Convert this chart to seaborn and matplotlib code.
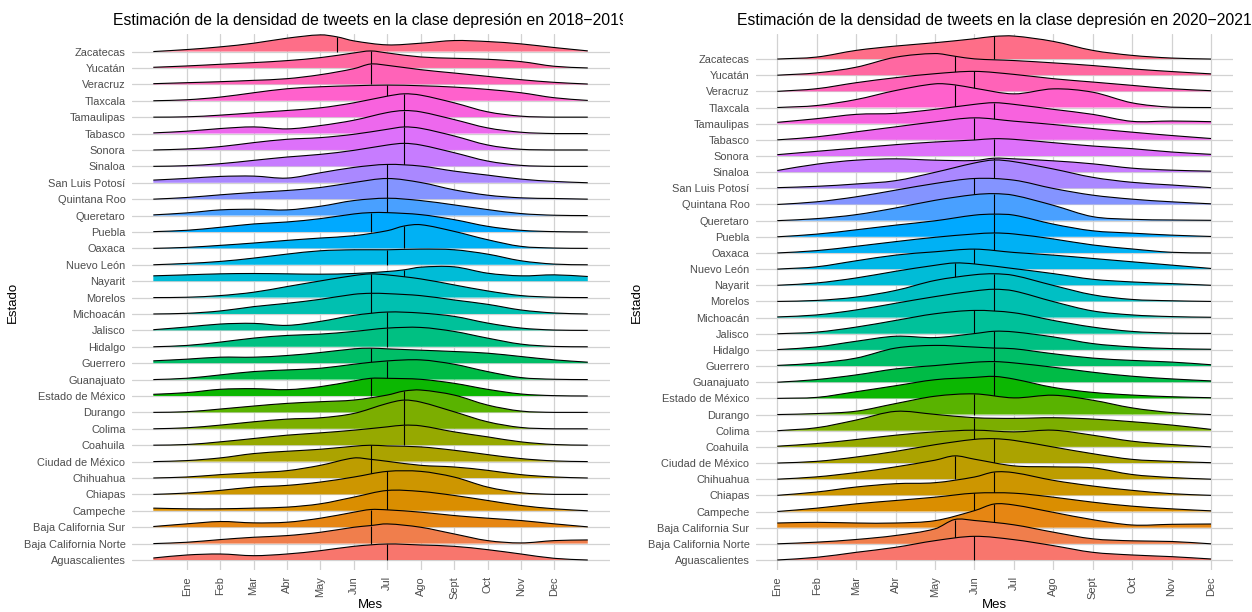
import numpy as np
import matplotlib
matplotlib.use("Agg")
import matplotlib.pyplot as plt
import seaborn as sns
from matplotlib.path import Path
from matplotlib.patches import PathPatch
from matplotlib.transforms import Bbox

# ---------------- data ----------------
states = ["Aguascalientes", "Baja California Norte", "Baja California Sur", "Campeche",
          "Chiapas", "Chihuahua", "Ciudad de México", "Coahuila", "Colima", "Durango",
          "Estado de México", "Guanajuato", "Guerrero", "Hidalgo", "Jalisco", "Michoacán",
          "Morelos", "Nayarit", "Nuevo León", "Oaxaca", "Puebla", "Queretaro",
          "Quintana Roo", "San Luis Potosí", "Sinaloa", "Sonora", "Tabasco", "Tamaulipas",
          "Tlaxcala", "Veracruz", "Yucatán", "Zacatecas"]

tick_months = list(range(1, 13))
month_labels = ["Ene", "Feb", "Mar", "Abr", "May", "Jun", "Jul", "Ago", "Sept", "Oct", "Nov", "Dec"]

# 2018-2019: density heights at months 0..13 (arbitrary units)
months_1819 = list(range(0, 14))
dens_1819 = [
    [6, 15, 18, 13, 18, 28, 41, 48, 45, 41, 31, 18, 5, 0],
    [0, 4, 12, 19, 24, 34, 49, 59, 49, 29, 9, 2, 9, 11],
    [2, 10, 17, 13, 15, 27, 45, 52, 45, 35, 27, 20, 10, 1],
    [8, 6, 6, 8, 11, 21, 41, 61, 58, 46, 31, 16, 6, 0],
    [0, 4, 12, 22, 27, 37, 52, 69, 69, 52, 22, 5, 0, 0],
    [0, 3, 10, 16, 22, 38, 60, 50, 38, 33, 23, 10, 3, 0],
    [0, 3, 11, 24, 31, 37, 46, 47, 44, 34, 21, 9, 2, 0],
    [0, 2, 10, 20, 30, 37, 45, 55, 58, 40, 25, 10, 2, 0],
    [0, 3, 11, 21, 29, 33, 46, 76, 80, 51, 21, 4, 0, 0],
    [0, 2, 10, 19, 27, 32, 37, 52, 67, 52, 22, 4, 0, 0],
    [5, 10, 20, 22, 19, 28, 45, 53, 50, 38, 20, 6, 1, 0],
    [0, 4, 14, 24, 29, 34, 46, 56, 59, 46, 24, 6, 1, 0],
    [7, 12, 18, 18, 23, 32, 43, 43, 39, 35, 30, 20, 10, 3],
    [0, 4, 14, 26, 34, 38, 46, 56, 58, 46, 26, 8, 1, 0],
    [2, 10, 19, 21, 15, 27, 45, 55, 52, 42, 22, 7, 1, 0],
    [0, 2, 9, 22, 32, 44, 59, 61, 55, 42, 29, 12, 3, 0],
    [0, 1, 6, 16, 33, 50, 66, 68, 56, 38, 20, 6, 1, 0],
    [16, 19, 22, 23, 22, 21, 23, 29, 42, 43, 24, 16, 19, 14],
    [0, 4, 10, 20, 32, 42, 45, 45, 47, 45, 32, 12, 2, 0],
    [0, 3, 9, 16, 24, 31, 38, 53, 71, 51, 26, 6, 1, 0],
    [1, 5, 14, 24, 30, 40, 54, 58, 52, 37, 17, 5, 1, 0],
    [2, 8, 17, 19, 17, 28, 45, 52, 45, 32, 18, 6, 1, 0],
    [0, 5, 13, 20, 26, 35, 50, 62, 50, 28, 12, 4, 2, 0],
    [8, 13, 19, 20, 14, 30, 46, 55, 50, 35, 23, 11, 4, 0],
    [0, 2, 8, 18, 28, 36, 48, 64, 64, 41, 16, 3, 0, 0],
    [0, 3, 10, 22, 32, 37, 47, 62, 65, 42, 15, 2, 0, 0],
    [2, 7, 15, 20, 14, 24, 40, 63, 65, 42, 17, 4, 0, 0],
    [0, 1, 6, 13, 20, 28, 43, 63, 66, 43, 16, 3, 0, 0],
    [0, 3, 11, 24, 36, 42, 45, 47, 45, 41, 34, 24, 9, 1],
    [2, 5, 8, 12, 17, 29, 47, 57, 44, 34, 24, 14, 6, 1],
    [2, 6, 11, 16, 22, 31, 45, 45, 33, 29, 26, 19, 5, 0],
    [0, 6, 14, 25, 40, 50, 32, 20, 25, 33, 30, 23, 12, 2],
]
med_1819 = [7.0, 6.5, 6.5, 7.0, 7.0, 6.5, 6.5, 7.5, 7.5, 7.5, 6.5, 7.0, 6.5, 7.0, 7.0, 6.5,
            6.5, 7.5, 7.0, 7.5, 6.5, 7.0, 7.0, 7.0, 7.5, 7.5, 7.5, 7.5, 7.0, 6.5, 6.5, 5.5]
medh_1819 = [48, 54, 53, 61, 69, 56, 49, 60, 86, 64, 53, 56, 45, 56, 55, 62,
             71, 34, 45, 67, 58, 52, 62, 55, 69, 69, 69, 70, 47, 61, 51, 44]

# 2020-2021: density heights at months 1..12 (arbitrary units)
months_2021 = list(range(1, 13))
dens_2021 = [
    [0, 8, 23, 38, 58, 71, 61, 43, 23, 15, 10, 3],
    [0, 5, 13, 25, 45, 70, 57, 35, 15, 9, 7, 0],
    [14, 16, 14, 14, 21, 51, 68, 46, 24, 8, 10, 11],
    [0, 10, 23, 33, 43, 55, 55, 43, 28, 16, 8, 2],
    [0, 10, 25, 35, 38, 55, 68, 45, 28, 15, 5, 0],
    [0, 7, 20, 37, 57, 60, 40, 37, 34, 14, 5, 0],
    [0, 5, 18, 35, 55, 71, 68, 48, 28, 11, 5, 1],
    [2, 10, 22, 35, 45, 50, 45, 50, 35, 17, 7, 0],
    [0, 9, 32, 58, 49, 39, 37, 39, 35, 27, 17, 4],
    [0, 3, 10, 33, 55, 62, 50, 58, 43, 20, 6, 0],
    [0, 3, 20, 38, 56, 63, 58, 33, 18, 10, 5, 2],
    [0, 8, 22, 40, 50, 60, 58, 45, 30, 18, 10, 4],
    [2, 9, 24, 54, 62, 57, 52, 37, 24, 17, 12, 4],
    [1, 9, 26, 41, 37, 49, 54, 39, 19, 9, 4, 2],
    [0, 5, 20, 40, 60, 70, 63, 40, 20, 7, 2, 1],
    [2, 8, 23, 43, 63, 80, 80, 48, 20, 8, 3, 1],
    [0, 3, 13, 33, 63, 80, 78, 48, 20, 6, 2, 0],
    [0, 7, 22, 42, 60, 64, 50, 35, 18, 10, 5, 0],
    [0, 7, 25, 42, 52, 60, 50, 42, 32, 22, 12, 2],
    [0, 7, 20, 34, 47, 57, 57, 42, 24, 12, 2, 0],
    [0, 8, 21, 35, 48, 65, 65, 38, 18, 11, 5, 1],
    [0, 6, 18, 38, 61, 78, 76, 46, 12, 4, 2, 1],
    [0, 8, 23, 43, 63, 78, 73, 48, 28, 16, 8, 2],
    [2, 6, 13, 23, 48, 76, 80, 58, 33, 18, 10, 2],
    [5, 24, 36, 40, 36, 35, 40, 34, 25, 12, 6, 3],
    [4, 14, 24, 34, 42, 48, 50, 40, 30, 22, 12, 5],
    [0, 9, 24, 39, 54, 66, 56, 46, 34, 23, 13, 4],
    [4, 15, 28, 31, 43, 58, 58, 43, 28, 7, 8, 6],
    [0, 6, 24, 51, 71, 58, 41, 56, 46, 14, 1, 0],
    [0, 8, 26, 41, 53, 60, 51, 38, 28, 18, 8, 2],
    [0, 7, 24, 54, 65, 49, 44, 37, 29, 19, 11, 4],
    [0, 6, 26, 39, 49, 61, 69, 53, 26, 11, 3, 0],
]
med_2021 = [6.0, 5.5, 6.5, 6.0, 6.5, 5.5, 6.5, 6.0, 6.0, 6.0, 6.5, 6.5, 6.5, 6.5, 6.0, 6.5,
            6.5, 5.5, 6.0, 6.5, 6.5, 6.5, 6.0, 6.5, 6.5, 6.5, 6.0, 6.5, 5.5, 6.0, 5.5, 6.5]
medh_2021 = [71, 73, 71, 55, 70, 70, 73, 50, 39, 62, 66, 62, 54, 56, 70, 85,
             83, 67, 60, 60, 68, 81, 78, 85, 42, 52, 66, 63, 68, 60, 57, 68]

titles = ["Estimación de la densidad de tweets en la clase depresión en 2018\u22122019",
          "Estimación de la densidad de tweets en la clase depresión en 2020\u22122021"]

# ---------------- style ----------------
sns.set_theme(style="whitegrid")
plt.rcParams['font.family'] = ['Liberation Sans', 'DejaVu Sans']

W, H = 1252, 612
fig = plt.figure(figsize=(W / 100, H / 100), dpi=100)
fig.patch.set_facecolor("white")


def hcl_hex(h, c=100.0, l=65.0):
    hr = np.deg2rad(h)
    u, v = c * np.cos(hr), c * np.sin(hr)
    Xn, Yn, Zn = 95.047, 100.0, 108.883
    den = Xn + 15 * Yn + 3 * Zn
    un, vn = 4 * Xn / den, 9 * Yn / den
    Y = Yn * ((l + 16) / 116) ** 3
    up = u / (13 * l) + un
    vp = v / (13 * l) + vn
    X = Y * 9 * up / (4 * vp)
    Z = Y * (12 - 3 * up - 20 * vp) / (4 * vp)
    X, Y, Z = X / 100, Y / 100, Z / 100
    rgb = [3.2404542 * X - 1.5371385 * Y - 0.4985314 * Z,
           -0.9692660 * X + 1.8760108 * Y + 0.0415560 * Z,
           0.0556434 * X - 0.2040259 * Y + 1.0572252 * Z]
    out = []
    for ch in rgb:
        ch = 1.055 * ch ** (1 / 2.4) - 0.055 if ch > 0.0031308 else 12.92 * ch
        out.append(min(max(ch, 0), 1))
    return tuple(out)


colors = [hcl_hex(15 + 360 * i / len(states)) for i in range(len(states))]


def curve_path(xs, ys, base):
    """Smooth (Catmull-Rom style) cubic Bezier path through the knots."""
    xs = np.asarray(xs, float)
    ys = np.asarray(ys, float)
    n = len(xs)
    m = np.zeros(n)
    for i in range(n):
        if i == 0:
            m[i] = (ys[1] - ys[0]) / (xs[1] - xs[0])
        elif i == n - 1:
            m[i] = (ys[-1] - ys[-2]) / (xs[-1] - xs[-2])
        else:
            m[i] = (ys[i + 1] - ys[i - 1]) / (xs[i + 1] - xs[i - 1])
    verts = [(xs[0], base + ys[0])]
    codes = [Path.MOVETO]
    for i in range(n - 1):
        h = xs[i + 1] - xs[i]
        c1 = (xs[i] + h / 3, base + max(ys[i] + m[i] * h / 3, 0))
        c2 = (xs[i + 1] - h / 3, base + max(ys[i + 1] - m[i + 1] * h / 3, 0))
        verts += [c1, c2, (xs[i + 1], base + ys[i + 1])]
        codes += [Path.CURVE4] * 3
    return verts, codes


def draw_panel(ax, months, dens, med, medh, scale, xlim, ylim):
    n = len(states)
    for i in range(n - 1, -1, -1):
        vals = [v / scale for v in dens[i]]
        xs = list(months)
        ys = list(vals)
        if med[i] not in xs:
            k = int(np.searchsorted(xs, med[i]))
            xs.insert(k, med[i])
            ys.insert(k, medh[i] / scale)
        verts, codes = curve_path(xs, ys, i)
        z = 3 + (n - 1 - i) * 0.03
        fverts = verts + [(xs[-1], i), (xs[0], i), (xs[0], i)]
        fcodes = codes + [Path.LINETO, Path.LINETO, Path.CLOSEPOLY]
        ax.add_patch(PathPatch(Path(fverts, fcodes), facecolor=colors[i],
                               edgecolor="none", zorder=z))
        ax.add_patch(PathPatch(Path(verts, codes), facecolor="none", edgecolor="black",
                               lw=0.8, joinstyle="round", zorder=z + 0.01))
        ax.vlines(med[i], i, i + medh[i] / scale, color="black", lw=0.8, zorder=z + 0.02)
    ax.set_xlim(*xlim)
    ax.set_ylim(*ylim)
    ax.set_xticks(tick_months)
    ax.set_xticklabels(month_labels, rotation=90)
    ax.set_yticks(range(n))
    ax.set_yticklabels(states)
    ax.set_facecolor("white")
    ax.grid(True, color="#D2D2D2", lw=0.9)
    ax.set_axisbelow(True)
    for s in ax.spines.values():
        s.set_visible(False)
    ax.tick_params(axis="both", length=2.6, width=0.7, color="#333333", pad=1.8,
                   labelsize=7.9, labelcolor="#4D4D4D")
    ax.set_xlabel("")
    ax.set_ylabel("")


top_px, bot_px = 34, 570
panels = [
    dict(x0=131.6, x1=609.5, months=months_1819, dens=dens_1819, med=med_1819,
         medh=medh_1819, scale=49.2, xlim=(-0.65, 13.65), ylim=(-0.61, 32.07)),
    dict(x0=755.6, x1=1232.7, months=months_2021, dens=dens_2021, med=med_2021,
         medh=medh_2021, scale=48.5, xlim=(0.45, 12.55), ylim=(-0.62, 32.55)),
]
ylab_x = [13, 637]
clip_right = [623, W]

for k, p in enumerate(panels):
    ax = fig.add_axes([p["x0"] / W, (H - bot_px) / H, (p["x1"] - p["x0"]) / W,
                       (bot_px - top_px) / H])
    draw_panel(ax, p["months"], p["dens"], p["med"], p["medh"], p["scale"], p["xlim"], p["ylim"])
    cx = (p["x0"] + p["x1"]) / 2
    t = fig.text(cx / W, 1 - 20 / H, titles[k], ha="center", va="center",
                 fontsize=11.3, color="black")
    t.set_clip_box(Bbox.from_extents(0 if k == 0 else 626, 0, clip_right[k], H))
    t.set_clip_on(True)
    fig.text(cx / W, 1 - 605 / H, "Mes", ha="center", va="center", fontsize=9.5, color="black")
    fig.text(ylab_x[k] / W, 1 - ((top_px + bot_px) / 2) / H, "Estado", ha="center",
             va="center", rotation=90, fontsize=9.5, color="black")

fig.savefig("out.png", dpi=100, facecolor="white")
